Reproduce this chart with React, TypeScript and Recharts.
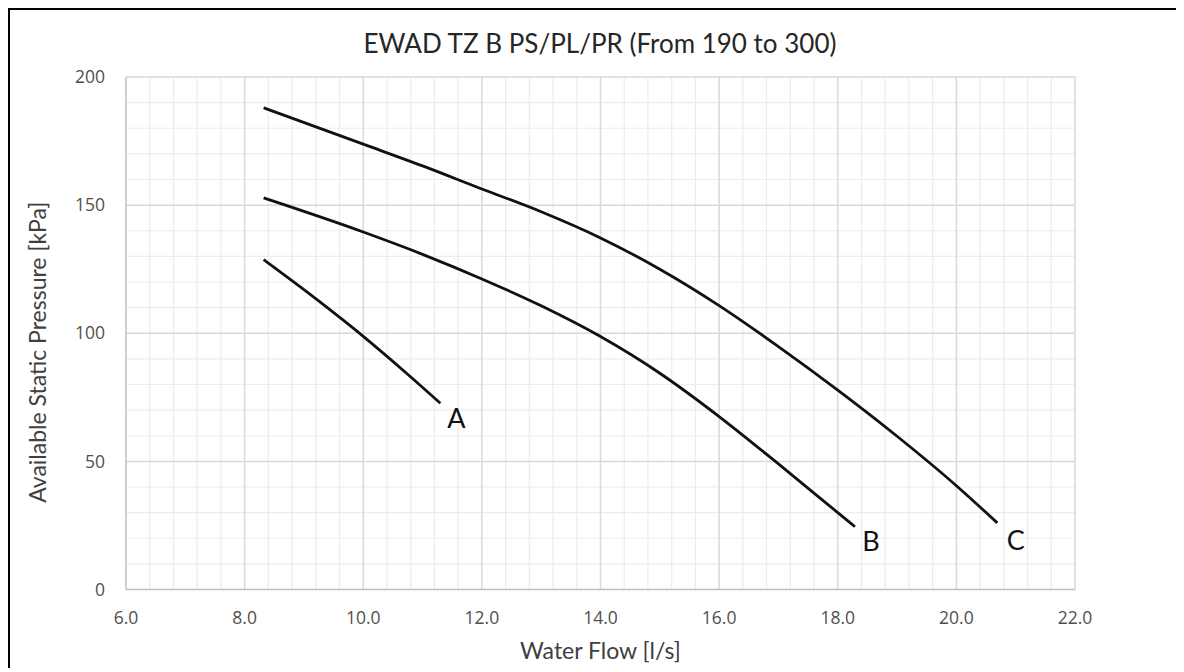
import React from 'react';
import { LineChart, Line, XAxis, YAxis, ReferenceLine, ReferenceDot } from 'recharts';

const curveA = [
  { x: 8.32, y: 128.7 },
  { x: 9.22, y: 113.1 },
  { x: 10.0, y: 98.8 },
  { x: 10.7, y: 85.0 },
  { x: 11.3, y: 72.7 },
];
const curveB = [
  { x: 8.32, y: 152.8 },
  { x: 10.0, y: 139.5 },
  { x: 11.0, y: 130.8 },
  { x: 12.0, y: 121.2 },
  { x: 13.0, y: 110.7 },
  { x: 14.0, y: 98.7 },
  { x: 15.0, y: 84.4 },
  { x: 16.0, y: 67.5 },
  { x: 17.0, y: 49.0 },
  { x: 18.0, y: 30.0 },
  { x: 18.29, y: 24.5 },
];
const curveC = [
  { x: 8.32, y: 188.0 },
  { x: 10.0, y: 173.8 },
  { x: 11.0, y: 165.3 },
  { x: 12.0, y: 156.3 },
  { x: 13.0, y: 147.4 },
  { x: 14.0, y: 137.2 },
  { x: 15.0, y: 125.0 },
  { x: 16.0, y: 110.8 },
  { x: 17.0, y: 94.8 },
  { x: 18.0, y: 77.8 },
  { x: 19.0, y: 59.8 },
  { x: 20.0, y: 40.5 },
  { x: 20.69, y: 26.0 },
];
const curveLabels = [
  { name: 'A', x: 11.57, y: 67 },
  { name: 'B', x: 18.56, y: 19 },
  { name: 'C', x: 21.0, y: 19.5 },
];
const xTicks = [6, 8, 10, 12, 14, 16, 18, 20, 22];
const yTicks = [0, 50, 100, 150, 200];
const xMinor = [6.4, 6.8, 7.2, 7.6, 8.4, 8.8, 9.2, 9.6, 10.4, 10.8, 11.2, 11.6, 12.4, 12.8, 13.2, 13.6, 14.4, 14.8, 15.2, 15.6, 16.4, 16.8, 17.2, 17.6, 18.4, 18.8, 19.2, 19.6, 20.4, 20.8, 21.2, 21.6];
const yMinor = [10, 20, 30, 40, 60, 70, 80, 90, 110, 120, 130, 140, 160, 170, 180, 190];

const FONT = 'Lato, "Open Sans", sans-serif';
const TICKFONT = '"Open Sans", sans-serif';

export default function App() {
  return (
    <div style={{ position: 'relative', width: 1174, height: 658, borderTop: '2px solid #000', borderLeft: '2px solid #000', fontFamily: FONT }}>
      <div style={{ position: 'absolute', left: 0, top: 17, width: 1180, textAlign: 'center', fontSize: 26, color: '#262626', fontFamily: FONT }}>
        EWAD TZ B PS/PL/PR (From 190 to 300)
      </div>
      <LineChart width={1174} height={658} margin={{ top: 67, right: 109, bottom: 48.5, left: 0 }}>
        <XAxis
          type="number"
          dataKey="x"
          domain={[6, 22]}
          ticks={xTicks}
          allowDataOverflow
          tickFormatter={(v) => Number(v).toFixed(1)}
          tickLine={false}
          axisLine={{ stroke: '#bfbfbf', strokeWidth: 1.5 }}
          tick={{ fill: '#505050', fontSize: 17.5, fontFamily: TICKFONT }}
          tickMargin={16}
          height={30}
          label={{ value: 'Water Flow [l/s]', position: 'center', dy: 46, fill: '#404040', fontSize: 23, fontFamily: FONT }}
        />
        <YAxis
          type="number"
          dataKey="y"
          domain={[0, 200]}
          ticks={yTicks}
          tickLine={false}
          axisLine={{ stroke: '#bfbfbf', strokeWidth: 1.5 }}
          tick={{ fill: '#505050', fontSize: 17.5, fontFamily: TICKFONT }}
          tickMargin={15}
          width={116}
          label={{ value: 'Available Static Pressure [kPa]', angle: -90, position: 'center', dx: -30, dy: 19, fill: '#404040', fontSize: 23, fontFamily: FONT }}
        />
        {xMinor.map((v) => (
          <ReferenceLine key={'xm' + v} x={v} stroke="#ececec" strokeWidth={1.2} />
        ))}
        {yMinor.map((v) => (
          <ReferenceLine key={'ym' + v} y={v} stroke="#ececec" strokeWidth={1.2} />
        ))}
        {xTicks.slice(1).map((v) => (
          <ReferenceLine key={'xM' + v} x={v} stroke="#d9d9d9" strokeWidth={1.5} />
        ))}
        {yTicks.slice(1).map((v) => (
          <ReferenceLine key={'yM' + v} y={v} stroke="#d9d9d9" strokeWidth={1.5} />
        ))}
        <Line data={curveA} dataKey="y" type="monotone" stroke="#111" strokeWidth={2.8} dot={false} isAnimationActive={false} />
        <Line data={curveB} dataKey="y" type="monotone" stroke="#111" strokeWidth={2.8} dot={false} isAnimationActive={false} />
        <Line data={curveC} dataKey="y" type="monotone" stroke="#111" strokeWidth={2.8} dot={false} isAnimationActive={false} />
        {curveLabels.map((l) => (
          <ReferenceDot
            key={l.name}
            x={l.x}
            y={l.y}
            r={0}
            ifOverflow="visible"
            shape={(p: any) => (
              <text x={p.cx} y={p.cy} textAnchor="middle" dominantBaseline="central" fontSize={27} fill="#111" fontFamily={FONT}>
                {l.name}
              </text>
            )}
          />
        ))}
      </LineChart>
    </div>
  );
}
